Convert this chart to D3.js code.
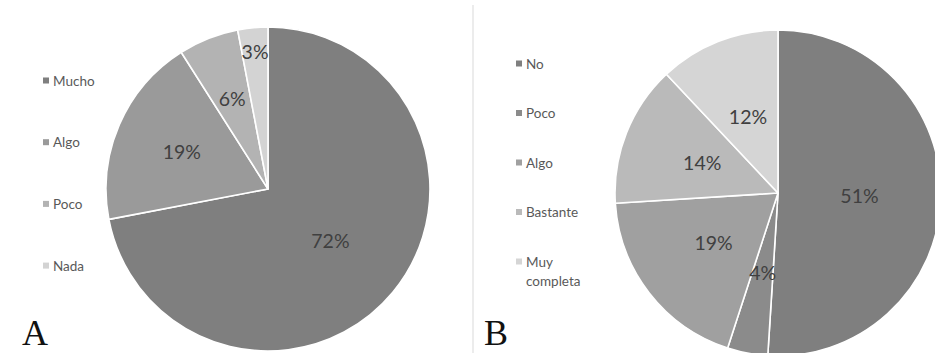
<!DOCTYPE html>
<html>
<head>
<meta charset="utf-8">
<script src="https://cdn.jsdelivr.net/npm/d3@7"></script>
<style>
  html, body { margin: 0; padding: 0; background: #fff; }
  svg { display: block; }
</style>
</head>
<body>
<svg id="chart" width="935" height="353"></svg>
<script>
// Panel A: satisfaction level
const catsA = ["Mucho", "Algo", "Poco", "Nada"];
const valsA = [72, 19, 6, 3];
const colorsA = ["#7f7f7f", "#9a9a9a", "#b3b3b3", "#d3d3d3"];

// Panel B: completeness of information
const catsB = ["No", "Poco", "Algo", "Bastante", "Muy completa"];
const valsB = [51, 4, 19, 14, 12];
const colorsB = ["#7f7f7f", "#8b8b8b", "#a0a0a0", "#bababa", "#d5d5d5"];

const svg = d3.select("#chart");
const FONT = "Lato, 'Open Sans', sans-serif";

// thin divider between the two panels
svg.append("line")
  .attr("x1", 473).attr("x2", 473).attr("y1", 5).attr("y2", 353)
  .attr("stroke", "#ececec").attr("stroke-width", 2);

function drawPie(opts) {
  const { cats, vals, colors, cx, cy, r, labelR, legendX, legendY, legendStep, letter, letterX } = opts;
  const pie = d3.pie().sort(null).value(d => d);
  const arcs = pie(vals);
  const arc = d3.arc().innerRadius(0).outerRadius(r);
  const g = svg.append("g").attr("transform", `translate(${cx},${cy})`);

  g.selectAll("path").data(arcs).join("path")
    .attr("d", arc)
    .attr("fill", (d, i) => colors[i])
    .attr("stroke", "#fff")
    .attr("stroke-width", 1.6)
    .attr("stroke-linejoin", "round");

  g.selectAll("text.pct").data(arcs).join("text")
    .attr("class", "pct")
    .attr("transform", (d, i) => {
      const la = d3.arc().innerRadius(0).outerRadius(2 * r * labelR[i]);
      const [x, y] = la.centroid(d);
      return `translate(${x},${y})`;
    })
    .attr("text-anchor", "middle")
    .attr("dy", "0.36em")
    .attr("font-family", FONT)
    .attr("font-size", 19.5)
    .attr("fill", "#404040")
    .text(d => d.data + "%");

  // legend
  const lg = svg.append("g").attr("transform", `translate(${legendX},${legendY})`);
  cats.forEach((c, i) => {
    const row = lg.append("g").attr("transform", `translate(0,${i * legendStep})`);
    row.append("rect").attr("x", 0).attr("y", -3.5).attr("width", 6).attr("height", 6)
      .attr("fill", colors[i]);
    const words = c.split(" ");
    const t = row.append("text")
      .attr("x", 10).attr("y", 0)
      .attr("font-family", FONT).attr("font-size", 13.5).attr("fill", "#595959");
    words.forEach((w, k) => {
      t.append("tspan").attr("x", 10).attr("dy", k === 0 ? "0.35em" : "1.45em").text(w);
    });
  });

  svg.append("text")
    .attr("x", letterX).attr("y", 345)
    .attr("font-family", "'Liberation Serif', 'Times New Roman', serif")
    .attr("font-size", 36)
    .attr("fill", "#111")
    .text(letter);
}

drawPie({
  cats: catsA, vals: valsA, colors: colorsA,
  cx: 268, cy: 189, r: 162,
  labelR: [0.5, 0.58, 0.6, 0.85],
  legendX: 43, legendY: 81, legendStep: 61.7,
  letter: "A", letterX: 22
});

drawPie({
  cats: catsB, vals: valsB, colors: colorsB,
  cx: 778, cy: 193, r: 163,
  labelR: [0.5, 0.5, 0.5, 0.5, 0.5],
  legendX: 516, legendY: 64, legendStep: 49.5,
  letter: "B", letterX: 484
});
</script>
</body>
</html>
